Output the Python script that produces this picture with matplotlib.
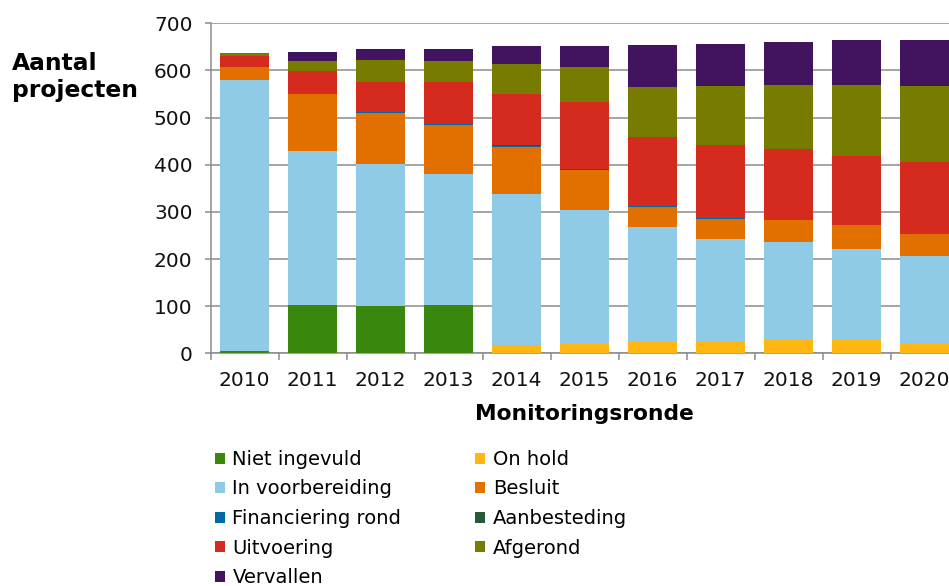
import matplotlib
matplotlib.use("Agg")
import matplotlib.pyplot as plt
from matplotlib.patches import Patch
import numpy as np

years = ["2010", "2011", "2012", "2013", "2014", "2015", "2016", "2017", "2018", "2019", "2020"]

niet_ingevuld    = [4, 103, 100, 103, 0, 0, 0, 0, 0, 0, 0]
on_hold          = [0, 0, 0, 0, 18, 20, 23, 25, 29, 31, 22]
in_voorbereiding = [575, 326, 301, 277, 319, 284, 245, 218, 207, 191, 185]
besluit          = [29, 120, 108, 104, 101, 85, 42, 41, 47, 50, 47]
financiering     = [0, 1, 2, 2, 1, 0, 2, 2, 0, 0, 0]
aanbesteding     = [0, 1, 1, 0, 2, 3, 1, 0, 0, 0, 0]
uitvoering       = [23, 48, 64, 90, 108, 140, 145, 156, 150, 147, 151]
afgerond         = [6, 20, 46, 43, 64, 76, 106, 124, 137, 151, 162]
vervallen        = [0, 20, 23, 27, 38, 43, 90, 90, 90, 95, 98]

series = [
    ("Niet ingevuld", niet_ingevuld, "#39870c"),
    ("On hold", on_hold, "#ffb612"),
    ("In voorbereiding", in_voorbereiding, "#8fcae7"),
    ("Besluit", besluit, "#e17000"),
    ("Financiering rond", financiering, "#0169a8"),
    ("Aanbesteding", aanbesteding, "#275937"),
    ("Uitvoering", uitvoering, "#d52b1e"),
    ("Afgerond", afgerond, "#777c00"),
    ("Vervallen", vervallen, "#42145f"),
]

W, H = 949, 586
fig = plt.figure(figsize=(W / 100, H / 100), dpi=100)
ax = fig.add_axes([210.5 / W, 1 - 353.3 / H, 748 / W, 330 / H])

x = np.arange(len(years))
bottom = np.zeros(len(years))
handles = []
for name, vals, col in series:
    v = np.array(vals, dtype=float)
    ax.bar(x, v, width=0.72, bottom=bottom, color=col, edgecolor="none", zorder=3)
    bottom += v
    handles.append(Patch(facecolor=col, edgecolor="none", label=name))

ax.set_xlim(-0.5, len(years) - 0.5)
ax.set_ylim(0, 700)
ax.set_yticks(np.arange(0, 701, 100))
ax.yaxis.grid(True, color="#8c8c8c", linewidth=1.1, zorder=0)
ax.set_axisbelow(True)

ax.set_xticks(x)
ax.set_xticklabels(years, fontsize=14.5, color="#111111")
ax.set_xticks(np.arange(-0.5, len(years), 1), minor=True)
ax.tick_params(axis="x", which="major", length=0, pad=13)
ax.tick_params(axis="x", which="minor", length=5, color="#8c8c8c", width=1.1)
ax.tick_params(axis="y", length=4, color="#8c8c8c", width=1.1, pad=9, labelsize=14.5, labelcolor="#111111")

for s in ["top", "right"]:
    ax.spines[s].set_visible(False)
for s in ["left", "bottom"]:
    ax.spines[s].set_color("#8c8c8c")
    ax.spines[s].set_linewidth(1.1)

ax.set_xlabel("Monitoringsronde", fontsize=15.7, fontweight="bold", labelpad=10)

fig.text(12 / W, 1 - 52 / H, "Aantal\nprojecten", ha="left", va="top",
         fontsize=16.8, fontweight="bold", linespacing=1.2)

# order for column-major filling so that rows read left-to-right
order = [0, 2, 4, 6, 8, 1, 3, 5, 7]
leg_handles = [handles[i] for i in order]
fig.legend(handles=leg_handles, loc="upper left", bbox_to_anchor=(215 / W, 1 - 450 / H),
           ncol=2, frameon=False, fontsize=14, handlelength=0.5, handleheight=0.5,
           handletextpad=0.4, columnspacing=3.8, labelspacing=0.54, borderaxespad=0,
           borderpad=0)

fig.savefig("out.png", dpi=100)
